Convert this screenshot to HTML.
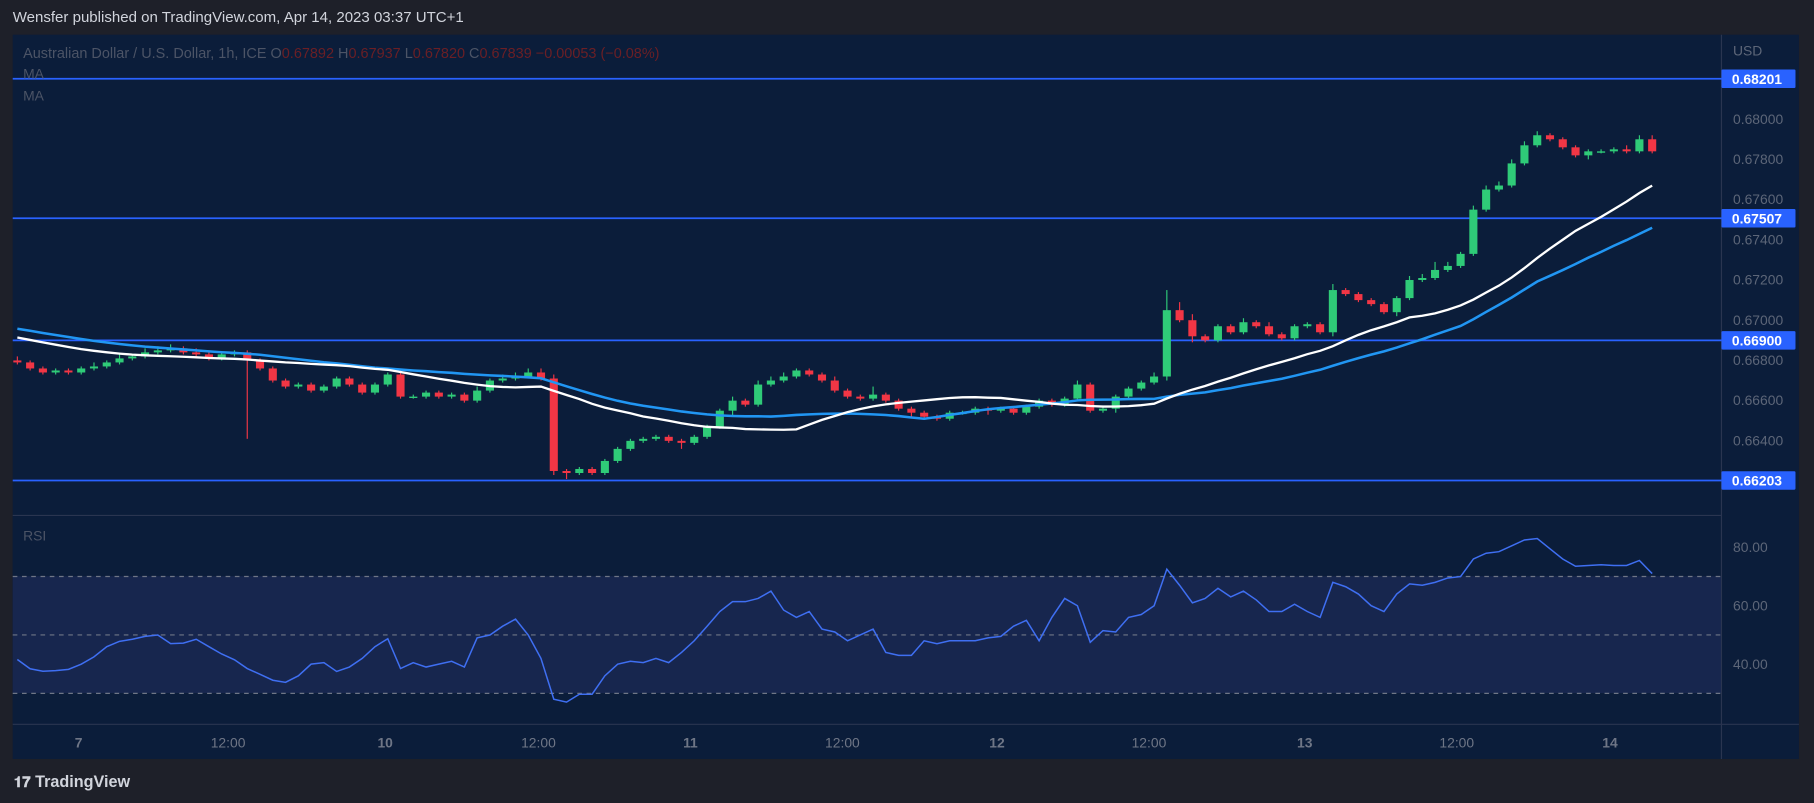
<!DOCTYPE html>
<html><head><meta charset="utf-8">
<style>
html,body{margin:0;padding:0;background:#1e2029;overflow:hidden}
svg{display:block;font-family:"Liberation Sans",sans-serif}
</style></head>
<body>
<svg id="c" width="1814" height="803" viewBox="0 0 1568 694" preserveAspectRatio="none" xmlns="http://www.w3.org/2000/svg">
<rect x="0" y="0" width="1568" height="694" fill="#1e2029"/>
<text x="11" y="19" fill="#d1d4dc" font-size="13">Wensfer published on TradingView.com, Apr 14, 2023 03:37 UTC+1</text>
<rect x="11" y="30" width="1544" height="626" fill="#0b1d3a"/>
<rect x="11" y="446" width="1477" height="180" fill="#0b1d3a"/>
<rect x="11" y="498" width="1477" height="101" fill="#17264e"/>
<line x1="1488" y1="30" x2="1488" y2="656" stroke="#2a3550"/>
<line x1="11" y1="445.5" x2="1488" y2="445.5" stroke="#2a3550"/>
<line x1="11" y1="626" x2="1555" y2="626" stroke="#2a3550"/>
<g id="grid"></g>
<g id="hlines"></g>
<g id="candles"></g>
<g id="mas"></g>
<g id="rsi"></g>
<g id="axes"></g>
<text x="20" y="50" fill="#4c5466" font-size="12.5">Australian Dollar / U.S. Dollar, 1h, ICE  O<tspan fill="#6b1f25">0.67892</tspan>  H<tspan fill="#6b1f25">0.67937</tspan>  L<tspan fill="#6b1f25">0.67820</tspan>  C<tspan fill="#6b1f25">0.67839</tspan>  <tspan fill="#6b1f25">−0.00053 (−0.08%)</tspan></text>
<text x="20" y="68" fill="#4c5466" font-size="12">MA</text>
<text x="20" y="87" fill="#4c5466" font-size="12">MA</text>
<text x="20" y="467" fill="#4c5466" font-size="12">RSI</text>
<text x="1498" y="48" fill="#5d6678" font-size="12">USD</text>
<text x="12" y="680" fill="#d1d4dc" font-size="14" font-weight="bold"><tspan font-size="13">𝟏𝟕</tspan> TradingView</text>
</svg>
<script>
const prevCloses=[0.6710,0.6709,0.6709,0.6708,0.6708,0.6707,0.6707,0.6707,0.6706,0.6706,0.6706,0.6707,0.6707,0.6708,0.6708,0.6707,0.6707,0.6706,0.6706,0.6705,0.6705,0.6704,0.6704,0.6703,0.6703,0.6702,
0.6700,0.6699,0.6698,0.6697,0.6696,0.6695,0.6694,0.6693,0.6692,0.6691,0.6690,0.6690,0.6689,0.6689,0.6688,0.6688,0.6687,0.6687,0.6686];
const closes=[0.6679,0.6676,0.6674,0.6675,0.6674,0.6676,0.6677,0.6679,0.6681,0.6682,0.6684,0.6685,0.6686,0.6684,0.6683,0.6681,0.6683,0.6684,0.6680,0.6676,
0.6670,0.6667,0.6668,0.6665,0.6667,0.6671,0.6668,0.6664,0.6668,0.6673,0.6662,0.6662,0.6664,0.6662,0.6663,0.6660,0.6665,0.6670,0.6671,0.6672,
0.6674,0.6671,0.6625,0.6624,0.6626,0.6624,0.6630,0.6636,0.6640,0.6641,0.6642,0.6640,0.6639,0.6642,0.6647,0.6655,0.6660,0.6658,0.6668,0.6670,
0.6672,0.6675,0.6673,0.6670,0.6665,0.6662,0.6661,0.6663,0.6660,0.6656,0.6654,0.6652,0.6651,0.6654,0.6654,0.6656,0.6655,0.6656,0.6654,0.6657,
0.6660,0.6658,0.6661,0.6668,0.6655,0.6656,0.6662,0.6666,0.6669,0.6672,0.6705,0.6700,0.6692,0.6690,0.6697,0.6694,0.6699,0.6697,0.6693,0.6691,
0.6697,0.6698,0.6694,0.6715,0.6713,0.6710,0.6708,0.6704,0.6711,0.6720,0.6721,0.6725,0.6727,0.6733,0.6755,0.6765,0.6767,0.6778,0.6787,0.6792,
0.6790,0.6786,0.6782,0.6784,0.6784,0.6785,0.6784,0.6790,0.6784];
const firstOpen=0.6680;
const wickUp=[2,1,1,1,1,1,2,1,2,1,2,2,2,1,2,1,1,1,1,1,1,1,1,1,1,1,1,1,1,1,2,1,1,1,1,1,2,1,2,2,2,2,2,1,1,1,1,1,1,1,1,1,1,1,1,1,2,1,2,2,2,1,1,1,2,1,1,4,1,1,1,1,1,1,1,1,1,1,1,1,1,1,1,2,1,1,1,1,1,2,10,4,3,1,1,1,2,1,2,1,1,1,1,3,1,1,1,1,1,2,2,4,2,1,2,2,2,2,2,2,1,1,1,1,1,1,2,2,2];
const wickDn=[1,1,1,1,1,1,1,1,1,1,1,1,1,1,1,1,1,1,39,1,1,1,1,1,1,1,1,1,1,1,1,1,1,1,1,1,1,1,1,1,1,1,2,3,1,1,1,1,1,1,1,1,3,1,1,1,3,1,1,1,1,1,1,1,1,1,1,1,1,1,2,1,1,1,1,1,2,1,1,1,1,1,1,1,1,1,2,1,1,1,2,1,3,1,1,1,1,1,1,1,1,1,1,2,1,1,1,1,2,1,1,1,1,1,1,1,1,1,1,1,1,1,1,2,1,1,1,1,1];
const rsiValues=[41.6,38.4,37.6,37.8,38.2,40,42.5,46,47.8,48.5,49.5,50,47,47.2,48.5,46,43.5,41.5,38.5,36.5,
34.5,33.8,36,40,40.5,37.5,39,42,46,48.7,38.5,40.5,39,40,41,39,49,50,53,55.4,
50,42,28,27,29.7,29.7,36,40,41,40.5,42,40.5,44,48,53,58,61.4,61.4,62.5,65,
58.5,56,58,52,51,48,50,52,44,43,43,48,47,48,48,48,49,49.5,53,55,
48,56,62.5,60,47.5,51.5,51,56,57,60,72.5,67,61,62.5,66,63,65,62,58,58,
60.5,58,56,68,66.5,64,60,58,64,67.5,67,68,69.5,70,76,78,78.5,80.5,82.5,83,
79.5,76,73.5,73.8,74,73.8,73.8,75.5,71];
const priceTicks=[0.680,0.678,0.676,0.674,0.672,0.670,0.668,0.666,0.664];
const levels=[0.68201,0.67507,0.66900,0.66203];
const rsiTicks=[80,60,40];
const rsiGuides=[70,50,30];
const timeLabels=["7","12:00","10","12:00","11","12:00","12","12:00","13","12:00","14"];
const timeLabelIdx=[4.8,16.5,28.8,40.8,52.7,64.6,76.7,88.6,100.8,112.7,124.7];
const maFastLen=20, maSlowLen=30;

const NS="http://www.w3.org/2000/svg";
const px=i=>15+i*11.04;
const py=p=>103+(0.680-p)/0.002*34.75;
const ry=r=>473+(80-r)*2.525;
function mk(tag,attrs,parent){const e=document.createElementNS(NS,tag);for(const k in attrs)e.setAttribute(k,attrs[k]);parent.appendChild(e);return e;}
const G=id=>document.getElementById(id);

priceTicks.forEach(p=>{
  const t=mk('text',{x:1498,y:py(p)+4,fill:'#5d6678','font-size':12},G('axes'));
  
  
  t.textContent=p.toFixed(5);
});
levels.forEach(p=>{
  const l=mk('line',{x1:11,x2:1488,y1:py(p),y2:py(p),stroke:'#2962ff','stroke-width':1.5},G('hlines'));
  
  
  const r=mk('rect',{x:1488,y:py(p)-8,width:64,height:16,fill:'#2962ff',rx:1},G('axes'));
  
  
  const t=mk('text',{x:1497,y:py(p)+4.5,fill:'#fff','font-size':12,'font-weight':'bold'},G('axes'));
  
  
  t.textContent=p.toFixed(5);
});
let prev=firstOpen;
closes.forEach((c,i)=>{
  const o=prev; prev=c;
  const hi=Math.max(o,c)+wickUp[i]*0.0001, lo=Math.min(o,c)-wickDn[i]*0.0001;
  const col=c>=o?'#2fcb78':'#f23645';
  const x=px(i);
  const w=mk('line',{x1:x,x2:x,y1:py(hi),y2:py(lo),stroke:col,'stroke-width':1},G('candles'));
  
  
  const top=py(Math.max(o,c)),h=Math.max(1.2,py(Math.min(o,c))-top);
  const b=mk('rect',{x:x-3.5,y:top,width:7,height:h,fill:col},G('candles'));
  
  
});
const all=prevCloses.concat(closes);
function ma(n){const pts=[];closes.forEach((c,i)=>{const j=i+prevCloses.length;let s=0;for(let k=j-n+1;k<=j;k++)s+=all[k];pts.push(px(i).toFixed(1)+','+py(s/n).toFixed(1));});return pts.join(' ');}
const mSlow=mk('polyline',{points:ma(maSlowLen),fill:'none',stroke:'#2196f3','stroke-width':2.2},G('mas'));


const mFast=mk('polyline',{points:ma(maFastLen),fill:'none',stroke:'#ffffff','stroke-width':2},G('mas'));


rsiGuides.forEach(r=>{
  const l=mk('line',{x1:11,x2:1488,y1:ry(r),y2:ry(r),stroke:'#6f7686','stroke-dasharray':'4 4','stroke-width':1},G('rsi'));
  
  
});
rsiTicks.forEach(r=>{
  const t=mk('text',{x:1498,y:ry(r)+4,fill:'#5d6678','font-size':12},G('axes'));
  
  
  t.textContent=r.toFixed(2);
});
const rl=mk('polyline',{points:rsiValues.map((r,i)=>px(i).toFixed(1)+','+ry(r).toFixed(1)).join(' '),fill:'none',stroke:'#3f6ff2','stroke-width':1.3},G('rsi'));


timeLabels.forEach((s,k)=>{
  const t=mk('text',{x:px(timeLabelIdx[k]),y:646,fill:'#6f7686','font-size':12,'text-anchor':'middle','font-weight':s.length<3?'bold':'normal'},G('axes'));
  
  
  t.textContent=s;
});
</script>
</body></html>
